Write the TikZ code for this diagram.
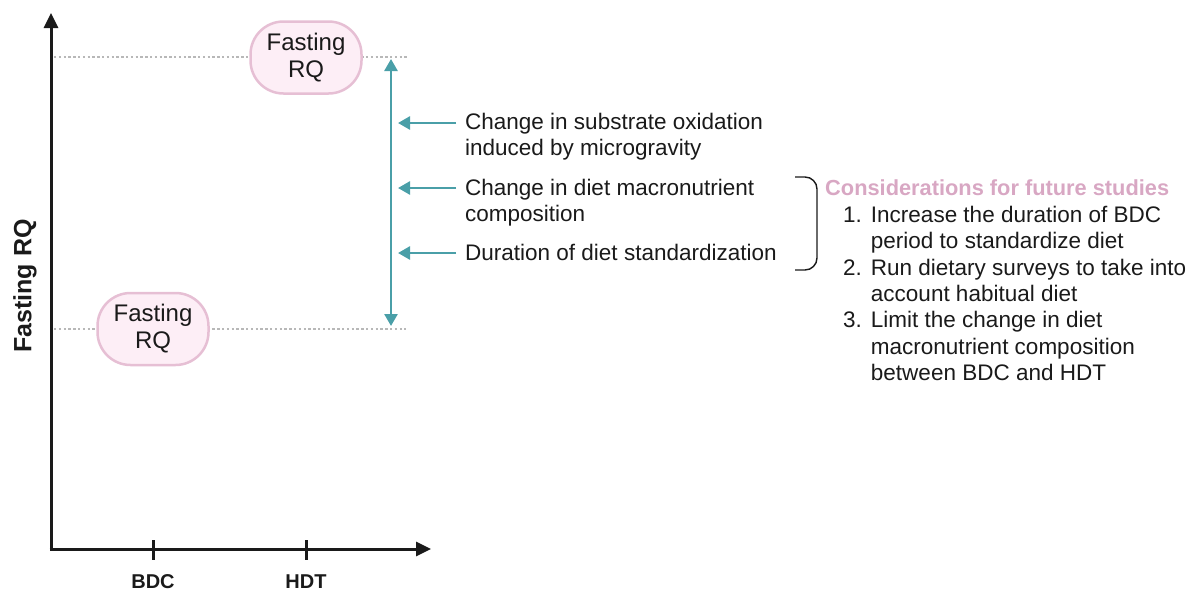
\documentclass[tikz,border=0pt]{standalone}
\usepackage{fontspec}
\setmainfont{Liberation Sans}
\usetikzlibrary{arrows.meta}
\definecolor{teal1}{HTML}{4A9FA8}
\definecolor{pinkfill}{HTML}{FDEEF6}
\definecolor{pinkdraw}{HTML}{E6BFD4}
\definecolor{pinktext}{HTML}{D8A7C3}
\definecolor{dotgray}{HTML}{B8B8B8}
\definecolor{ink}{HTML}{1A1A1A}
\tikzset{
  bubble/.style={draw=pinkdraw, fill=pinkfill, line width=2.5pt, rounded corners=33pt,
    minimum width=111pt, minimum height=72pt, inner sep=0pt, align=center,
    font=\fontsize{24}{27}\selectfont, text=ink},
  axisline/.style={line width=3pt, draw=ink, -{Triangle[length=15pt,width=14pt]}},
  tealarrow/.style={line width=2.6pt, draw=teal1, -{Triangle[length=12pt,width=13pt]}},
  tealdouble/.style={line width=2.6pt, draw=teal1, {Triangle[length=12pt,width=13pt]}-{Triangle[length=12pt,width=13pt]}},
  guide/.style={draw=dotgray, line width=2.4pt, dash pattern=on 2.4pt off 2.4pt},
  body/.style={font=\fontsize{22.5}{26.5}\selectfont, text=ink, align=left, inner sep=0pt},
  ticklabel/.style={font=\bfseries\fontsize{20}{22}\selectfont, text=ink, inner sep=0pt},
  tickmark/.style={line width=3pt, draw=ink}
}
\begin{document}
\begin{tikzpicture}[x=1pt,y=-1pt]
\useasboundingbox (0,0) rectangle (1203,592);
% axes
\coordinate (origin) at (51,549);
\coordinate (ytop) at (51,13);
\coordinate (xend) at (431,549);
\draw[axisline] ([yshift=-1.5pt]origin) -- (ytop);
\draw[axisline] ([xshift=-1.5pt]origin) -- (xend);
% ticks
\coordinate (bdct) at (153,540);
\coordinate (bdcb) at (153,560);
\coordinate (hdtt) at (306,540);
\coordinate (hdtb) at (306,560);
\draw[tickmark] (bdct) -- (bdcb);
\draw[tickmark] (hdtt) -- (hdtb);
\node[ticklabel] (bdc) at (153,582) {BDC};
\node[ticklabel] (hdt) at (306,582) {HDT};
\node[font=\bfseries\fontsize{25}{28}\selectfont, text=ink, rotate=90, inner sep=0pt] (ylab) at (25,286) {Fasting RQ};
% guides
\coordinate (gtl) at (54,57);
\coordinate (gtr) at (407,57);
\coordinate (gbl) at (54,329);
\coordinate (gbr) at (406,329);
\draw[guide] (gtl) -- (gtr);
\draw[guide] (gbl) -- (gbr);
% bubbles
\node[bubble] (top) at (306,57.5) {Fasting\\RQ};
\node[bubble] (bot) at (153,329) {Fasting\\RQ};
% teal double arrow
\coordinate (da1) at (391,59);
\coordinate (da2) at (391,326);
\draw[tealdouble] (da1) -- (da2);
% factor labels
\node[body, anchor=west] (f1) at (465,136.5) {Change in substrate oxidation\\induced by microgravity};
\node[body, anchor=west] (f2) at (465,202.5) {Change in diet macronutrient\\composition};
\node[body, anchor=west] (f3) at (465,252.5) {Duration of diet standardization};
\coordinate (a1) at (398,123);
\coordinate (a2) at (398,188);
\coordinate (a3) at (398,253);
\draw[tealarrow] (f1.west |- a1) ++(-9,0) -- (a1);
\draw[tealarrow] (f2.west |- a2) ++(-9,0) -- (a2);
\draw[tealarrow] (f3.west |- a3) ++(-9,0) -- (a3);
% bracket
\coordinate (bt) at (795,177);
\coordinate (bb) at (795,270);
\draw[line width=1.4pt, draw=ink, rounded corners=12pt] (bt) -- (817,177) -- (817,270) -- (bb);
% considerations
\node[font=\bfseries\fontsize{21.8}{24}\selectfont, text=pinktext, anchor=west, inner sep=0pt] (cons) at (825,188) {Considerations for future studies};
\node[font=\fontsize{22.5}{26.3}\selectfont, text=ink, align=left, inner sep=0pt, anchor=north west] (list) at (843,204) {%
\begin{tabular}{@{}l@{\hspace{9pt}}l@{}}
1. & Increase the duration of BDC\\
   & period to standardize diet\\
2. & Run dietary surveys to take into\\
   & account habitual diet\\
3. & Limit the change in diet\\
   & macronutrient composition\\
   & between BDC and HDT
\end{tabular}};
\end{tikzpicture}
\end{document}
